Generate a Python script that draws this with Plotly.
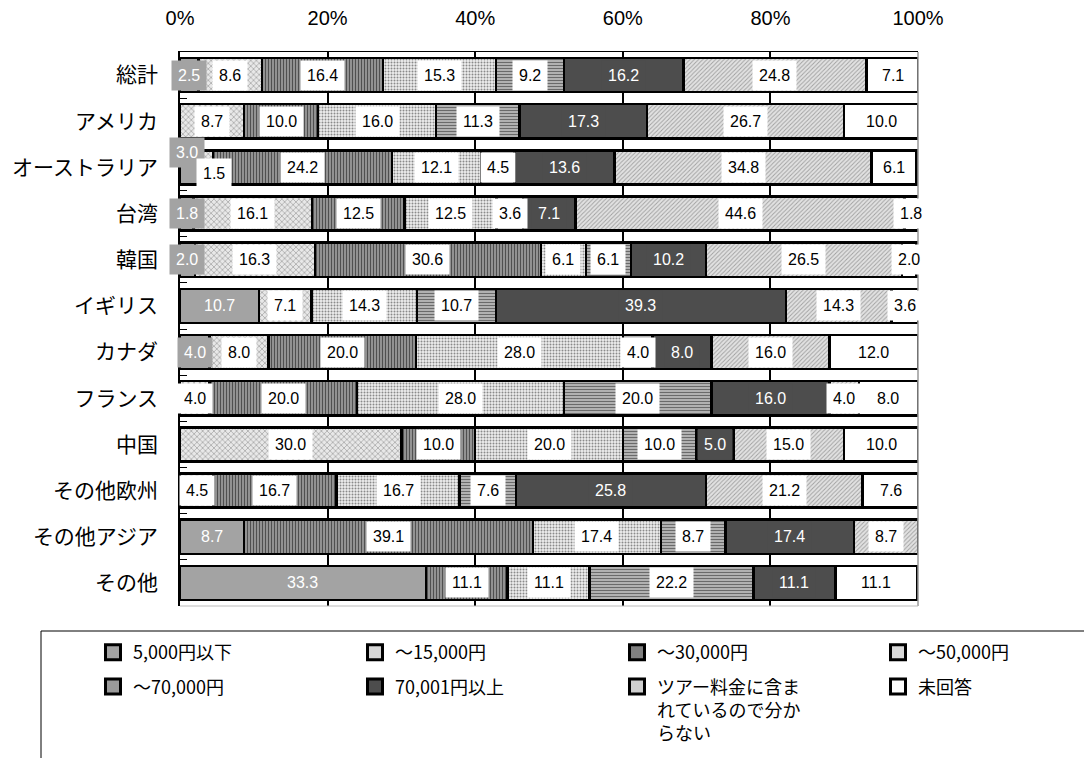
import plotly.graph_objects as go

categories = ["総計", "アメリカ", "オーストラリア", "台湾", "韓国", "イギリス",
              "カナダ", "フランス", "中国", "その他欧州", "その他アジア", "その他"]

series_names = ["5,000円以下", "～15,000円", "～30,000円", "～50,000円",
                "～70,000円", "70,001円以上",
                "ツアー料金に含ま<br>れているので分か<br>らない", "未回答"]

s5000 = [2.5, 0, 3.0, 1.8, 2.0, 10.7, 4.0, 0, 0, 0, 8.7, 33.3]
s15000 = [8.6, 8.7, 1.5, 16.1, 16.3, 7.1, 8.0, 4.0, 30.0, 4.5, 0, 0]
s30000 = [16.4, 10.0, 24.2, 12.5, 30.6, 0, 20.0, 20.0, 10.0, 16.7, 39.1, 11.1]
s50000 = [15.3, 16.0, 12.1, 12.5, 6.1, 14.3, 28.0, 28.0, 20.0, 16.7, 17.4, 11.1]
s70000 = [9.2, 11.3, 4.5, 3.6, 6.1, 10.7, 4.0, 20.0, 10.0, 7.6, 8.7, 22.2]
s70001 = [16.2, 17.3, 13.6, 7.1, 10.2, 39.3, 8.0, 16.0, 5.0, 25.8, 17.4, 11.1]
stour = [24.8, 26.7, 34.8, 44.6, 26.5, 14.3, 16.0, 4.0, 15.0, 21.2, 8.7, 0]
snone = [7.1, 10.0, 6.1, 1.8, 2.0, 3.6, 12.0, 8.0, 10.0, 7.6, 0, 11.1]

all_series = [s5000, s15000, s30000, s50000, s70000, s70001, stour, snone]

x_ticks = [0, 20, 40, 60, 80, 100]
x_tick_labels = ["0%", "20%", "40%", "60%", "80%", "100%"]

styles = [
    dict(color="#a3a3a3", avg="#a3a3a3", pattern=None, lbg="#a3a3a3", lfc="white"),
    dict(color="#e8e8e8", avg="#d6d6d6", pattern=dict(shape="x", fgcolor="#9a9a9a", size=4, solidity=0.3), lbg="white", lfc="black"),
    dict(color="#a8a8a8", avg="#808080", pattern=dict(shape="|", fgcolor="#505050", size=3, solidity=0.5), lbg="white", lfc="black"),
    dict(color="#eeeeee", avg="#d8d8d8", pattern=dict(shape=".", fgcolor="#8a8a8a", size=3, solidity=0.35), lbg="white", lfc="black"),
    dict(color="#c8c8c8", avg="#9a9a9a", pattern=dict(shape="-", fgcolor="#6a6a6a", size=3, solidity=0.5), lbg="white", lfc="black"),
    dict(color="#4d4d4d", avg="#4d4d4d", pattern=None, lbg="#4d4d4d", lfc="white"),
    dict(color="#e2e2e2", avg="#cfcfcf", pattern=dict(shape="/", fgcolor="#a0a0a0", size=3, solidity=0.3), lbg="white", lfc="black"),
    dict(color="#ffffff", avg="#ffffff", pattern=None, lbg="white", lfc="black"),
]

legend_of = ["legend", "legend2", "legend3", "legend4",
             "legend", "legend2", "legend3", "legend4"]

fig = go.Figure()
for i, (name, vals) in enumerate(zip(series_names, all_series)):
    st = styles[i]
    marker = dict(color=st["color"], line=dict(color="black", width=2.5))
    if st["pattern"]:
        p = dict(st["pattern"])
        p["bgcolor"] = st["color"]
        p["fillmode"] = "replace"
        marker["pattern"] = p
    fig.add_trace(go.Bar(
        y=categories, x=vals, name=name, orientation="h",
        marker=marker, showlegend=False, legendgroup=f"g{i}",
        hoverinfo="x+name",
    ))

# legend entries (square keys like the reference)
for i, name in enumerate(series_names):
    st = styles[i]
    fig.add_trace(go.Scatter(
        x=[None], y=[None], mode="markers", name=name,
        marker=dict(symbol="square", size=15, color=st["avg"],
                    line=dict(color="black", width=3)),
        legend=legend_of[i], legendgroup=f"g{i}", showlegend=True,
        hoverinfo="skip",
    ))

special_shift = {("オーストラリア", 0): (-4, 15), ("オーストラリア", 1): (6, -6)}
annotations = []
for ci, cat in enumerate(categories):
    cum = 0.0
    for si, vals in enumerate(all_series):
        v = vals[ci]
        if v > 0:
            st = styles[si]
            xs, ys = special_shift.get((cat, si), (0, 0))
            annotations.append(dict(
                x=cum + v / 2, y=cat, xref="x", yref="y",
                text=f"{v:.1f}", showarrow=False,
                font=dict(family="Liberation Sans, Arial", size=16, color=st["lfc"]),
                bgcolor=st["lbg"], borderpad=6,
                xshift=xs, yshift=ys,
            ))
        cum += v

L, R, T, B = 180, 166, 52, 152
W, H = 1084, 758
pw, ph = W - L - R, H - T - B

def px_x(p):
    return (p - L) / pw

def px_y(p):
    return (H - B - p) / ph

legend_common = dict(
    orientation="v", yanchor="top", xanchor="left",
    font=dict(family="Noto Sans CJK JP", size=18, color="black"),
    bgcolor="rgba(0,0,0,0)", borderwidth=0, traceorder="grouped",
    tracegroupgap=8, valign="top",
)
legend_xs = [93, 355, 617, 878]
legend_top = 634

fig.update_layout(
    width=W, height=H,
    margin=dict(l=L, r=R, t=T, b=B, autoexpand=False),
    paper_bgcolor="white", plot_bgcolor="white",
    barmode="stack", bargap=0.26,
    annotations=annotations,
    legend=dict(legend_common, x=px_x(legend_xs[0]), y=px_y(legend_top)),
    legend2=dict(legend_common, x=px_x(legend_xs[1]), y=px_y(legend_top)),
    legend3=dict(legend_common, x=px_x(legend_xs[2]), y=px_y(legend_top)),
    legend4=dict(legend_common, x=px_x(legend_xs[3]), y=px_y(legend_top)),
    xaxis=dict(
        side="top", range=[0, 100], tickmode="array",
        tickvals=x_ticks, ticktext=x_tick_labels,
        showgrid=True, gridcolor="black", gridwidth=1.5,
        showline=True, linecolor="black", linewidth=1,
        zeroline=False, ticks="", ticklabelstandoff=18, automargin=False,
        tickfont=dict(family="Liberation Sans, Arial", size=20, color="black"),
        fixedrange=True,
    ),
    yaxis=dict(
        categoryorder="array", categoryarray=categories, autorange="reversed",
        showline=True, linecolor="black", linewidth=1.5,
        ticks="inside", tickson="boundaries", ticklen=7, tickcolor="black",
        ticklabelstandoff=16, showgrid=False, automargin=False,
        tickfont=dict(family="Noto Sans CJK JP", size=21, color="black"),
        fixedrange=True,
    ),
    shapes=[
        dict(type="line", xref="paper", yref="paper", x0=1, x1=1, y0=0, y1=1,
             line=dict(color="#999999", width=1.5)),
        dict(type="line", xref="paper", yref="paper", x0=0, x1=1, y0=0, y1=0,
             line=dict(color="#bbbbbb", width=1)),
        dict(type="rect", xref="paper", yref="paper",
             x0=px_x(41), x1=px_x(1100), y0=px_y(631), y1=px_y(780),
             line=dict(color="black", width=1)),
    ],
)

fig.write_html("out.html", config={"displayModeBar": False},
               post_script="document.body.style.margin='0';")
